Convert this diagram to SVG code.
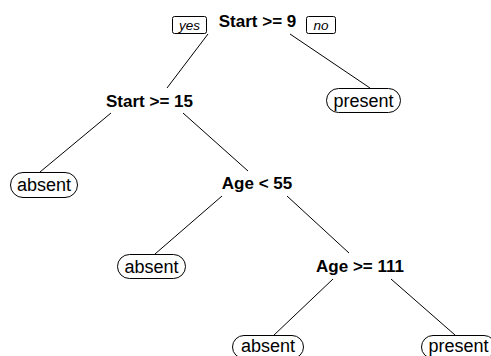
<svg xmlns="http://www.w3.org/2000/svg" width="491" height="356" viewBox="0 0 491 356">
<style>
.split{font-family:"Liberation Sans",Arial,sans-serif;font-weight:bold;font-size:17px;text-anchor:middle;fill:#000}
.leaf{font-family:"Liberation Sans",Arial,sans-serif;font-size:18px;text-anchor:middle;fill:#000}
.pill{fill:#fff;stroke:#000;stroke-width:1}
.lbl{font-family:"Liberation Sans",Arial,sans-serif;font-style:italic;font-size:13.5px;text-anchor:middle;fill:#000}
.box{fill:#fff;stroke:#000;stroke-width:1}
.edge{stroke:#000;stroke-width:1;fill:none}
</style>
<rect width="491" height="356" fill="#fff"/>
<g id="connectors">
<line class="edge" x1="208" y1="34" x2="167" y2="88"/>
<line class="edge" x1="290" y1="34" x2="370" y2="88"/>
<line class="edge" x1="111" y1="113" x2="40" y2="172"/>
<line class="edge" x1="183" y1="113" x2="248" y2="171"/>
<line class="edge" x1="222" y1="196" x2="155" y2="254"/>
<line class="edge" x1="287" y1="196" x2="349" y2="253"/>
<line class="edge" x1="333" y1="279" x2="273" y2="336"/>
<line class="edge" x1="391" y1="279" x2="455" y2="335"/>
</g>
<g id="yes-label">
<rect class="box" x="172.5" y="16.5" width="34" height="17" rx="2"/>
<text class="lbl" x="189.5" y="30">yes</text>
</g>
<g id="no-label">
<rect class="box" x="306.5" y="16.5" width="29" height="17" rx="2"/>
<text class="lbl" x="321" y="30">no</text>
</g>
<g id="n1"><text class="split" x="257.5" y="27">Start &gt;= 9</text></g>
<g id="n2"><text class="split" x="149.5" y="107">Start &gt;= 15</text></g>
<g id="n3"><rect class="pill" x="326.5" y="88.5" width="74" height="24" rx="12"/><text class="leaf" x="363.5" y="106.5">present</text></g>
<g id="n4"><rect class="pill" x="10.5" y="172.5" width="67" height="25" rx="12.5"/><text class="leaf" x="44" y="191">absent</text></g>
<g id="n5"><text class="split" x="257" y="189">Age &lt; 55</text></g>
<g id="n6"><rect class="pill" x="117.5" y="254.5" width="68" height="24" rx="12"/><text class="leaf" x="151.5" y="273">absent</text></g>
<g id="n7"><text class="split" x="360" y="272">Age &gt;= 111</text></g>
<g id="n8"><rect class="pill" x="232.5" y="335.5" width="71" height="23" rx="11.5"/><text class="leaf" x="268" y="352">absent</text></g>
<g id="n9"><rect class="pill" x="421.5" y="335.5" width="74" height="23" rx="11.5"/><text class="leaf" x="458.5" y="352">present</text></g>
</svg>
